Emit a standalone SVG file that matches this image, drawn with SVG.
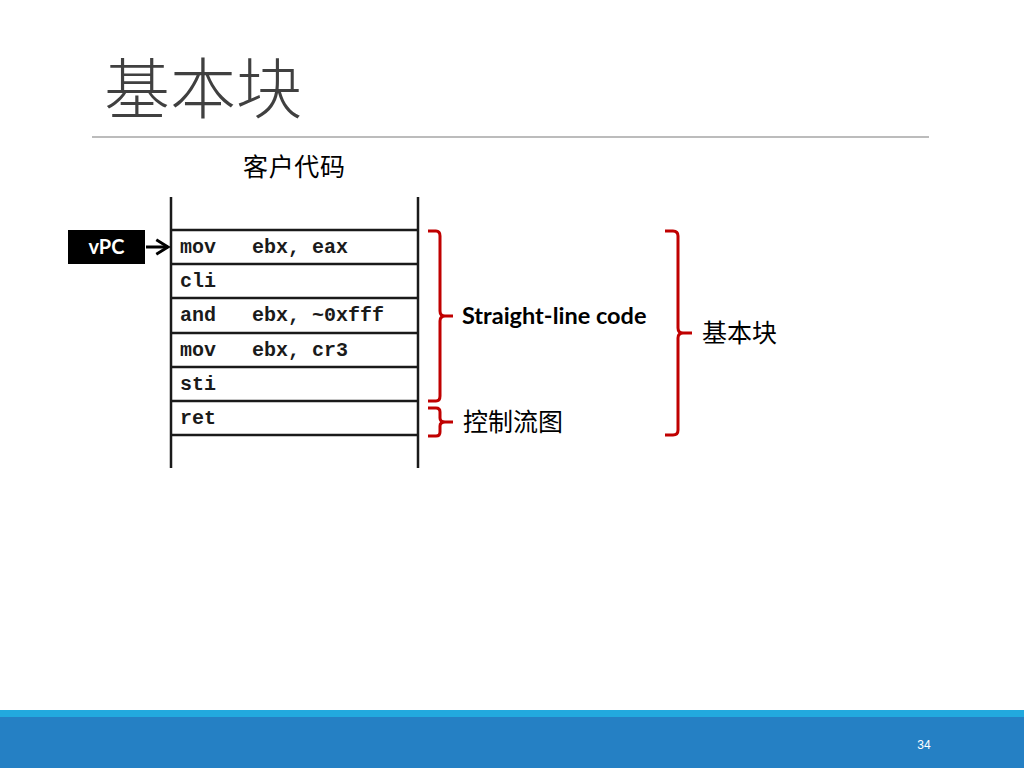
<svg xmlns="http://www.w3.org/2000/svg" width="1024" height="768" viewBox="0 0 1024 768">
<style>
.code{font-family:"Liberation Mono","Courier New",monospace;font-weight:bold;font-size:20px;fill:#1a1a1a;white-space:pre}
.cjk{font-family:"Noto Sans CJK SC","Noto Sans",sans-serif;fill:#000}
.row{stroke:#1a1a1a;stroke-width:2.5;fill:none}
.br{stroke:#c00000;stroke-width:3;fill:none;stroke-linejoin:round}
</style>
<defs>
<marker id="ah" viewBox="0 0 10 10" refX="8" refY="5" markerWidth="6" markerHeight="6" orient="auto" markerUnits="strokeWidth">
<path d="M1.5,1 L8,5 L1.5,9" fill="none" stroke="#000" stroke-width="1.6"/>
</marker>
</defs>
<rect width="1024" height="768" fill="#fff"/>
<text x="104" y="113" class="cjk" style="font-size:66px;fill:#404040;font-weight:300">基本块</text>
<line x1="92" y1="137" x2="929" y2="137" stroke="#a6a6a6" stroke-width="1.3"/>
<text x="243" y="176" class="cjk" textLength="102" style="font-size:25px">客户代码</text>

<g id="stack">
<line class="row" x1="171" y1="197" x2="171" y2="468"/>
<line class="row" x1="418" y1="197" x2="418" y2="468"/>
<line class="row" x1="171" y1="230" x2="418" y2="230"/>
<line class="row" x1="171" y1="264" x2="418" y2="264"/>
<line class="row" x1="171" y1="298" x2="418" y2="298"/>
<line class="row" x1="171" y1="333" x2="418" y2="333"/>
<line class="row" x1="171" y1="367" x2="418" y2="367"/>
<line class="row" x1="171" y1="401" x2="418" y2="401"/>
<line class="row" x1="171" y1="435" x2="418" y2="435"/>
</g>
<g id="code">
<text class="code" x="180" y="253">mov   ebx, eax</text>
<text class="code" x="180" y="287">cli</text>
<text class="code" x="180" y="321">and   ebx, ~0xfff</text>
<text class="code" x="180" y="356">mov   ebx, cr3</text>
<text class="code" x="180" y="390">sti</text>
<text class="code" x="180" y="424">ret</text>
</g>
<g id="vpc">
<rect x="68" y="230" width="77" height="34" fill="#000"/>
<text x="106.5" y="254" text-anchor="middle" style="font-family:Lato,'Open Sans',sans-serif;font-weight:bold;font-size:20px;fill:#fff">vPC</text>
</g>
<g id="connectors">
<line x1="146" y1="247" x2="168" y2="247" stroke="#000" stroke-width="3" marker-end="url(#ah)"/>
<path class="br" d="M428,231 L436,231 Q440,231 440,236 L440,311 Q440,316 445,316 L453,316 M445,316 Q440,316 440,321 L440,396 Q440,401 436,401 L428,401"/>
<path class="br" d="M428,408 L436,408 Q440,408 440,412 L440,418 Q440,422 445,422 L453,422 M445,422 Q440,422 440,426 L440,432 Q440,436 436,436 L428,436"/>
<path class="br" d="M665,231 L673,231 Q678,231 678,236 L678,328 Q678,333 683,333 L692,333 M683,333 Q678,333 678,338 L678,430 Q678,435 673,435 L665,435"/>
</g>
<g id="labels">
<text x="462" y="324" style="font-family:Lato,'Open Sans',sans-serif;font-weight:bold;font-size:23.5px;fill:#000">Straight-line code</text>
<text x="463" y="431" class="cjk" style="font-size:25px">控制流图</text>
<text x="702" y="342" class="cjk" style="font-size:25px">基本块</text>
</g>
<rect x="0" y="710" width="1024" height="7" fill="#22a9de"/>
<rect x="0" y="717" width="1024" height="51" fill="#2580c4"/>
<text x="924" y="749" text-anchor="middle" style="font-family:'Liberation Sans',sans-serif;font-size:12px;fill:#fff">34</text>
</svg>
